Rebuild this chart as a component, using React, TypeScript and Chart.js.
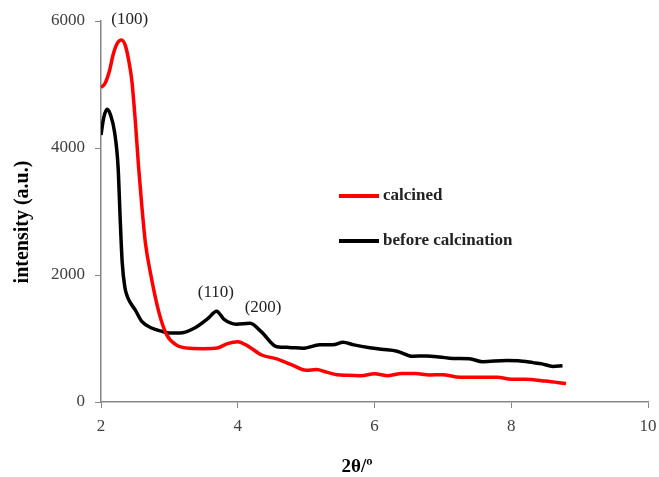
import React, { useEffect, useRef } from "react";
import { Chart, registerables } from "chart.js";

Chart.register(...registerables);

const calcinedX = [2.0, 2.06, 2.12, 2.18, 2.24, 2.3, 2.36, 2.41, 2.45, 2.5, 2.55, 2.6, 2.65, 2.72, 2.85, 2.96, 3.1, 3.3, 3.5, 3.7, 3.85, 4.0, 4.15, 4.35, 4.57, 4.8, 5.0, 5.15, 5.3, 5.45, 5.6, 5.8, 6.0, 6.2, 6.4, 6.6, 6.8, 7.0, 7.2, 7.5, 7.8, 8.0, 8.2, 8.5, 8.8];
const calcinedY = [4950, 5020, 5200, 5480, 5650, 5700, 5600, 5350, 5070, 4450, 3700, 3050, 2500, 2050, 1400, 1060, 900, 845, 840, 850, 920, 950, 880, 740, 680, 580, 500, 510, 470, 430, 420, 415, 445, 415, 450, 450, 425, 430, 395, 390, 390, 360, 360, 330, 290];

const beforeX = [2.0, 2.04, 2.09, 2.14, 2.2, 2.25, 2.28, 2.31, 2.35, 2.39, 2.42, 2.5, 2.6, 2.74, 2.9, 3.0, 3.15, 3.37, 3.57, 3.69, 3.8, 3.98, 4.18, 4.35, 4.57, 4.75, 4.95, 5.2, 5.39, 5.54, 5.7, 5.93, 6.1, 6.33, 6.56, 6.76, 6.95, 7.15, 7.39, 7.58, 7.93, 8.1, 8.32, 8.45, 8.61, 8.75];
const beforeY = [4205, 4480, 4610, 4520, 4240, 3700, 2900, 2200, 1800, 1650, 1580, 1450, 1265, 1165, 1110, 1085, 1085, 1165, 1320, 1430, 1300, 1225, 1240, 1100, 870, 860, 845, 900, 900, 940, 900, 855, 830, 800, 720, 725, 710, 685, 680, 635, 655, 650, 620, 600, 560, 570];

const xTicks = [2, 4, 6, 8, 10];
const yTicks = [0, 2000, 4000, 6000];

const seriesNames = ["calcined", "before calcination"];
const seriesColors = ["#ff0000", "#000000"];

const peakLabels = ["(100)", "(110)", "(200)"];
const peakLabelX = [2.42, 3.68, 4.37];
const peakLabelY = [6020, 1730, 1480];

const xTitle = "2θ/º";
const yTitle = "intensity (a.u.)";

const SERIF = "'Liberation Serif', 'Times New Roman', serif";

export default function App() {
  const ref = useRef<HTMLCanvasElement | null>(null);

  useEffect(() => {
    const canvas = ref.current;
    if (!canvas) return;

    const overlay = {
      id: "overlay",
      afterDraw(chart: any) {
        const ctx = chart.ctx;
        const xs = chart.scales.x;
        const ys = chart.scales.y;
        ctx.save();
        ctx.fillStyle = "#222222";
        ctx.font = `17px ${SERIF}`;
        ctx.textAlign = "center";
        ctx.textBaseline = "middle";
        peakLabels.forEach((t, i) => {
          ctx.fillText(t, xs.getPixelForValue(peakLabelX[i]), ys.getPixelForValue(peakLabelY[i]));
        });
        const legendX = 339;
        const legendY = [196, 241];
        seriesNames.forEach((name, i) => {
          ctx.strokeStyle = seriesColors[i];
          ctx.lineWidth = 4;
          ctx.beginPath();
          ctx.moveTo(legendX, legendY[i]);
          ctx.lineTo(legendX + 40, legendY[i]);
          ctx.stroke();
          ctx.fillStyle = "#222222";
          ctx.font = `bold 17px ${SERIF}`;
          ctx.textAlign = "left";
          ctx.textBaseline = "middle";
          ctx.fillText(name, legendX + 44, legendY[i]);
        });
        ctx.fillStyle = "#000000";
        ctx.font = `bold 19px ${SERIF}`;
        ctx.textAlign = "center";
        ctx.textBaseline = "middle";
        ctx.fillText(xTitle, 357, 467);
        ctx.translate(23, 222);
        ctx.rotate(-Math.PI / 2);
        ctx.font = `bold 20px ${SERIF}`;
        ctx.fillText(yTitle, 0, 0);
        ctx.restore();
      },
    };

    const chart = new Chart(canvas, {
      type: "line",
      data: {
        datasets: [
          {
            label: seriesNames[0],
            data: calcinedX.map((x, i) => ({ x, y: calcinedY[i] })),
            borderColor: seriesColors[0],
            backgroundColor: seriesColors[0],
            borderWidth: 3.5,
            pointRadius: 0,
            cubicInterpolationMode: "monotone",
            fill: false,
          },
          {
            label: seriesNames[1],
            data: beforeX.map((x, i) => ({ x, y: beforeY[i] })),
            borderColor: seriesColors[1],
            backgroundColor: seriesColors[1],
            borderWidth: 3.5,
            pointRadius: 0,
            cubicInterpolationMode: "monotone",
            fill: false,
          },
        ],
      },
      options: {
        animation: false,
        responsive: false,
        devicePixelRatio: 1,
        layout: { padding: { left: 0, top: 21, right: 11, bottom: 0 } },
        plugins: {
          legend: { display: false },
          tooltip: { enabled: false },
          title: { display: false },
        },
        scales: {
          x: {
            type: "linear",
            min: 2,
            max: 10,
            afterBuildTicks: (s: any) => {
              s.ticks = xTicks.map((v) => ({ value: v }));
            },
            ticks: {
              font: { family: SERIF, size: 17 },
              color: "#404040",
              padding: 8,
              maxRotation: 0,
              callback: (v: any) => String(v),
            },
            grid: {
              drawOnChartArea: false,
              drawTicks: true,
              tickLength: 6,
              color: "#868686",
            },
            border: { color: "#868686", width: 1.5 },
            afterFit: (s: any) => {
              s.height = 75;
              s.paddingLeft = 0;
              s.paddingRight = 0;
            },
          },
          y: {
            min: 0,
            max: 6000,
            afterBuildTicks: (s: any) => {
              s.ticks = yTicks.map((v) => ({ value: v }));
            },
            ticks: {
              font: { family: SERIF, size: 17 },
              color: "#404040",
              padding: 10,
              callback: (v: any) => String(v),
            },
            grid: {
              drawOnChartArea: false,
              drawTicks: true,
              tickLength: 6,
              color: "#868686",
            },
            border: { color: "#868686", width: 1.5 },
            afterFit: (s: any) => {
              s.width = 101;
              s.paddingTop = 0;
              s.paddingBottom = 0;
            },
          },
        },
      },
      plugins: [overlay],
    } as any);

    return () => chart.destroy();
  }, []);

  return (
    <div style={{ position: "absolute", left: 0, top: 0, width: 659, height: 477, background: "#ffffff" }}>
      <canvas ref={ref} width={659} height={477} style={{ display: "block", width: 659, height: 477 }} />
    </div>
  );
}
